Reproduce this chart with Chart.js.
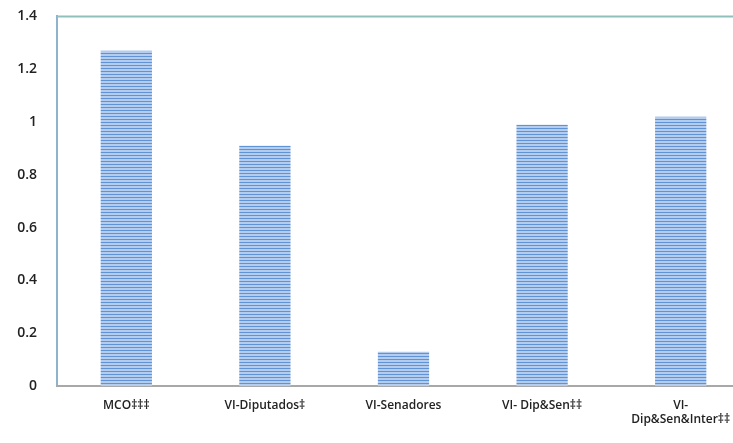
<!DOCTYPE html>
<html>
<head>
<meta charset="utf-8">
<script src="https://cdn.jsdelivr.net/npm/chart.js"></script>
<style>
  html, body { margin: 0; padding: 0; background: #fff; overflow: hidden; }
  .wrap { position: relative; top: -12px; width: 750px; height: 455px; }
</style>
</head>
<body>
<div class="wrap"><canvas id="chart"></canvas></div>
<script>
// values
const categories = [
  'MCO\u2021\u2021\u2021',
  'VI-Diputados\u2021',
  'VI-Senadores',
  'VI- Dip&Sen\u2021\u2021',
  ['VI-', 'Dip&Sen&Inter\u2021\u2021']
];
const coefValues = [1.27, 0.91, 0.13, 0.99, 1.02];
const yTicks = [0, 0.2, 0.4, 0.6, 0.8, 1, 1.2, 1.4];

// horizontal striped fill like the original
function stripePattern() {
  const c = document.createElement('canvas');
  c.width = 4; c.height = 3;
  const g = c.getContext('2d');
  g.fillStyle = '#b4cdee';
  g.fillRect(0, 0, 4, 3);
  g.fillStyle = '#5f93d6';
  g.fillRect(0, 2, 4, 1);
  return g.createPattern(c, 'repeat');
}

const topBorder = {
  id: 'topBorder',
  afterDraw(chart) {
    const { ctx, chartArea } = chart;
    ctx.save();
    ctx.strokeStyle = '#8fc0bb';
    ctx.lineWidth = 2;
    ctx.beginPath();
    ctx.moveTo(chartArea.left, chartArea.top);
    ctx.lineTo(chartArea.right + 10, chartArea.top);
    ctx.stroke();
    ctx.restore();
  }
};

const ctx = document.getElementById('chart').getContext('2d');
new Chart(ctx, {
  type: 'bar',
  data: {
    labels: categories,
    datasets: [{
      data: coefValues,
      backgroundColor: stripePattern(),
      borderWidth: 0,
      barPercentage: 0.74,
      categoryPercentage: 0.5
    }]
  },
  options: {
    responsive: true,
    maintainAspectRatio: false,
    animation: false,
    layout: { padding: { top: 4, right: 0, left: 0, bottom: 0 } },
    plugins: { legend: { display: false }, tooltip: { enabled: false } },
    scales: {
      y: {
        min: 0,
        max: 1.4,
        afterBuildTicks(axis) { axis.ticks = yTicks.map(v => ({ value: v })); },
        afterFit(axis) { axis.width = 57; },
        grid: { display: false, drawTicks: false },
        border: { display: true, color: '#8fb3cc', width: 2 },
        ticks: {
          padding: 20,
          color: '#222',
          font: { family: 'Open Sans', size: 14, weight: '600' },
          callback: v => String(v)
        }
      },
      x: {
        afterFit(axis) { axis.height = 57; },
        grid: { display: false, drawTicks: false },
        border: { display: true, color: '#a8a8a8', width: 2 },
        ticks: {
          padding: 12,
          maxRotation: 0,
          autoSkip: false,
          color: '#222',
          font: { family: 'Open Sans', size: 12, weight: '600' }
        }
      }
    }
  },
  plugins: [topBorder]
});
</script>
</body>
</html>
